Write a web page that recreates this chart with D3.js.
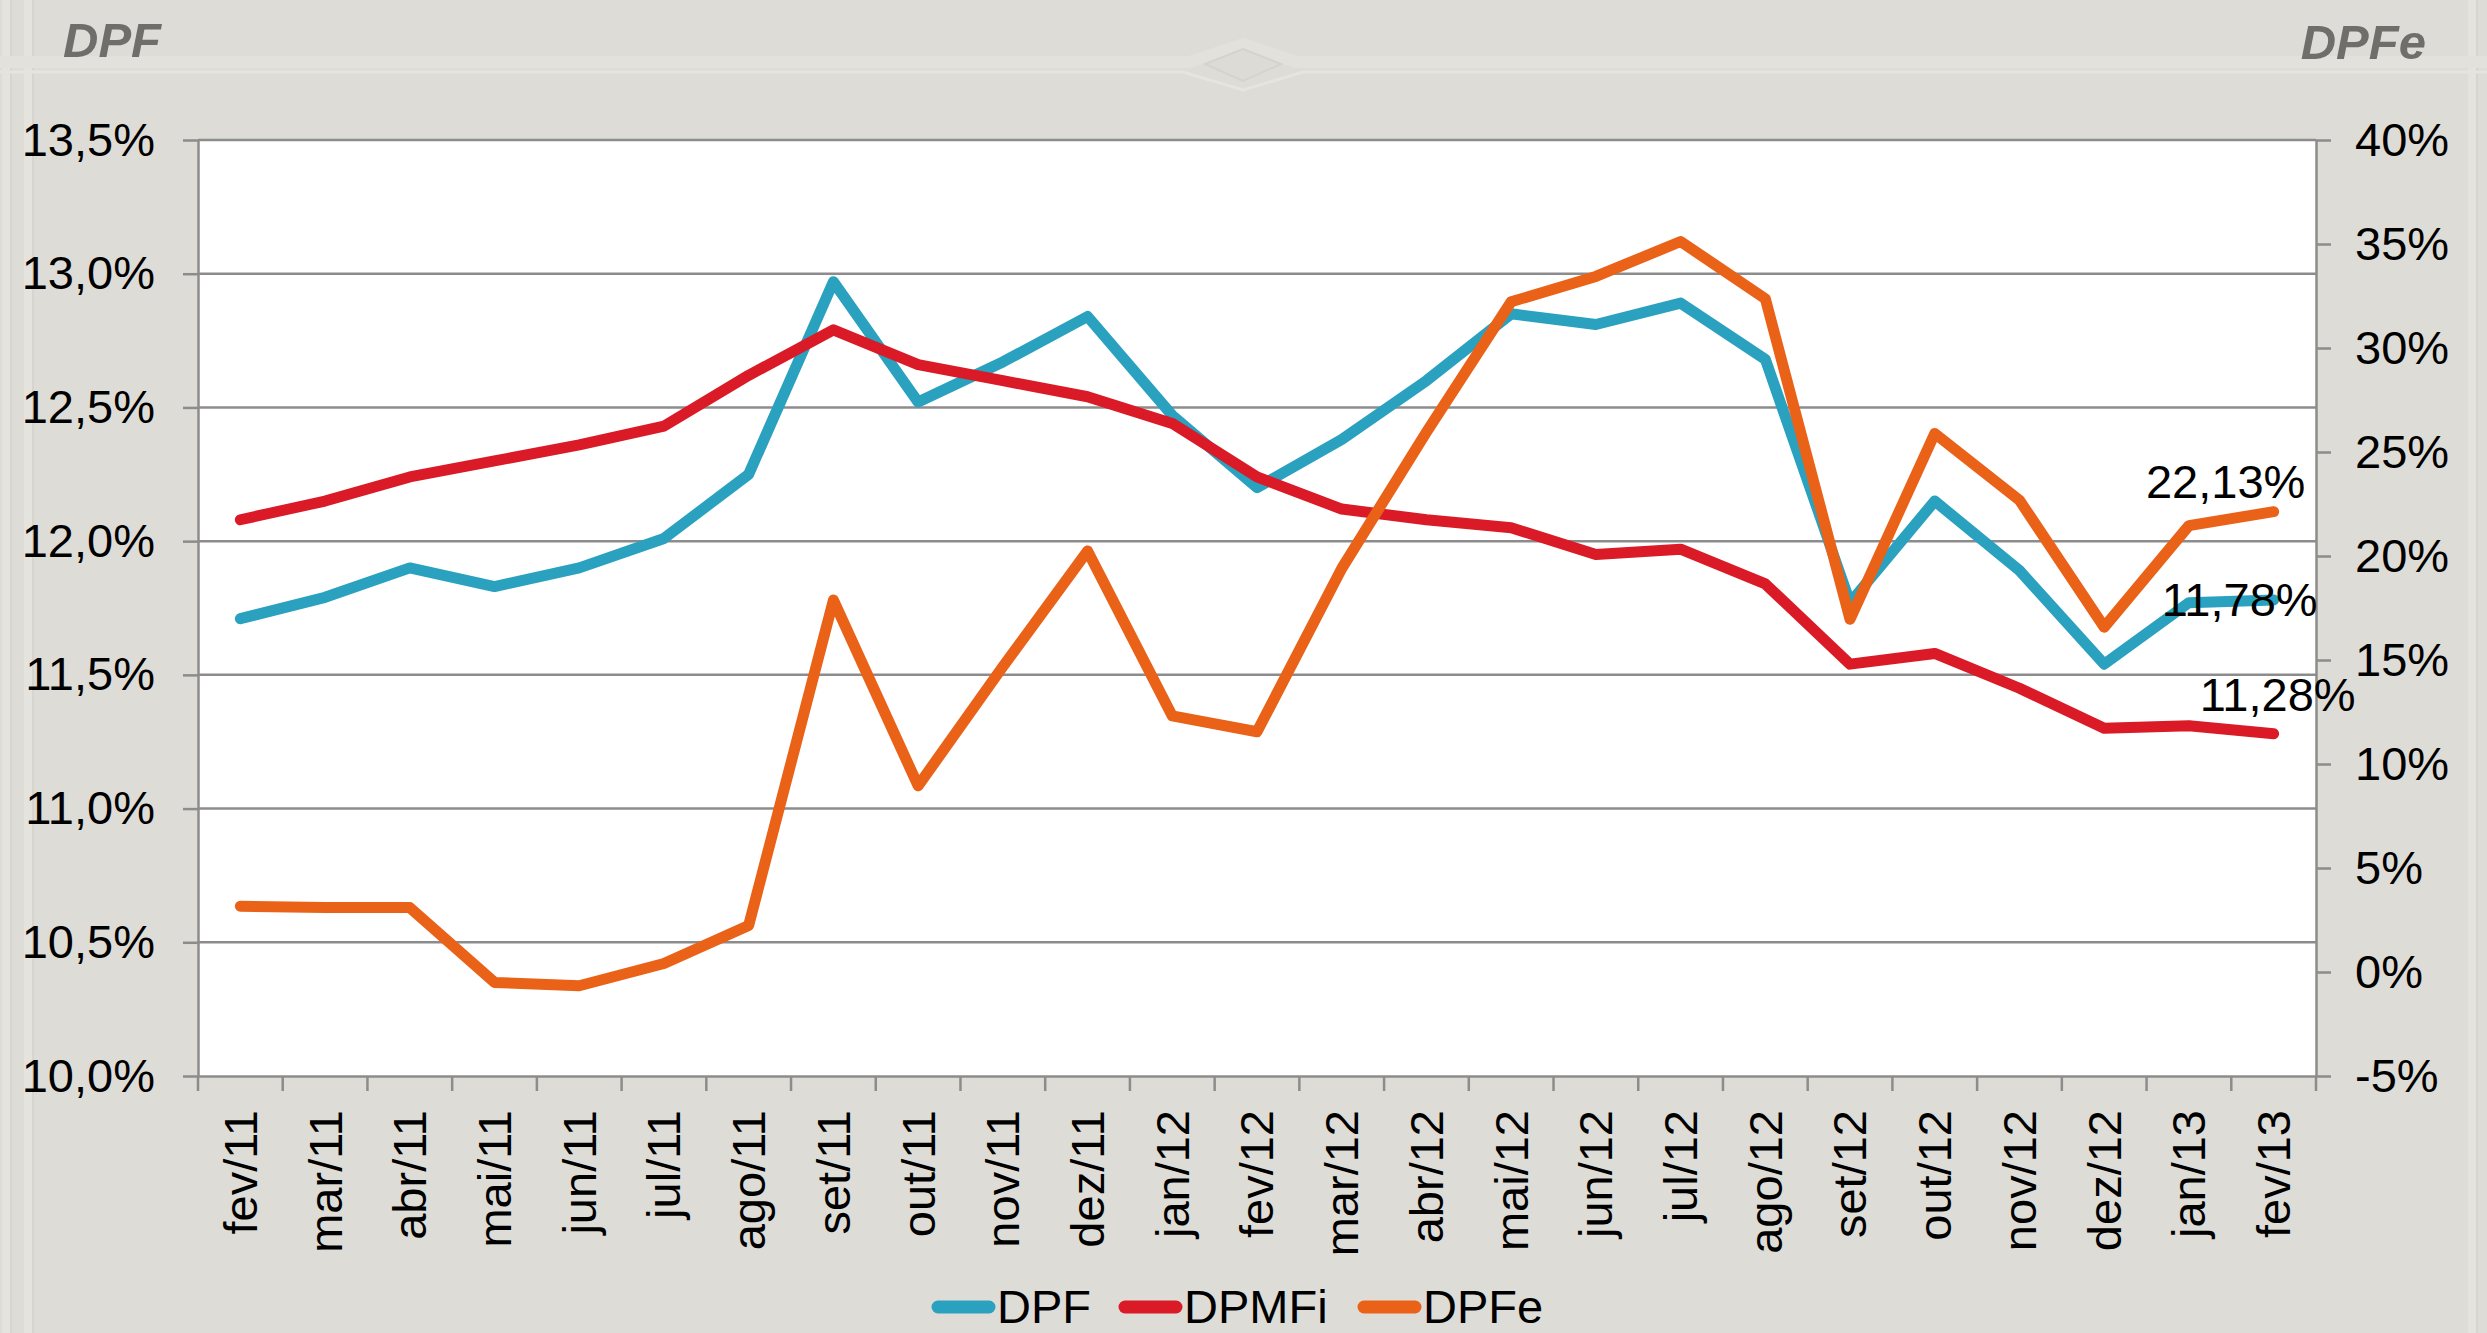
<!DOCTYPE html>
<html>
<head>
<meta charset="utf-8">
<script src="https://cdn.jsdelivr.net/npm/d3@7"></script>
<style>
  html, body { margin: 0; padding: 0; background: #dedcd6; }
  svg { display: block; font-family: "Liberation Sans", Arial, sans-serif; }
</style>
</head>
<body>
<script>
// meses (eixo X)
const meses = ["fev/11", "mar/11", "abr/11", "mai/11", "jun/11", "jul/11", "ago/11", "set/11", "out/11", "nov/11", "dez/11",
  "jan/12", "fev/12", "mar/12", "abr/12", "mai/12", "jun/12", "jul/12", "ago/12", "set/12", "out/12", "nov/12", "dez/12",
  "jan/13", "fev/13"];

// eixo esquerdo (%)
const dpf = [11.71, 11.79, 11.90, 11.83, 11.90, 12.01, 12.25, 12.97, 12.52, 12.67, 12.84,
  12.47, 12.20, 12.38, 12.60, 12.85, 12.81, 12.89, 12.68, 11.77, 12.15, 11.89, 11.54, 11.77, 11.78];
const dpmfi = [12.08, 12.15, 12.24, 12.30, 12.36, 12.43, 12.62, 12.79, 12.66, 12.60, 12.54,
  12.44, 12.24, 12.12, 12.08, 12.05, 11.95, 11.97, 11.84, 11.54, 11.58, 11.45, 11.30, 11.31, 11.28];

// eixo direito (%)
const dpfe = [3.16, 3.10, 3.10, -0.50, -0.66, 0.41, 2.24, 17.88, 8.95, 14.68, 20.24,
  12.31, 11.55, 19.40, 25.96, 32.22, 33.44, 35.12, 32.37, 16.96, 25.89, 22.68, 16.58, 21.46, 22.13];

const leftTicks = [10.0, 10.5, 11.0, 11.5, 12.0, 12.5, 13.0, 13.5];
const rightTicks = [-5, 0, 5, 10, 15, 20, 25, 30, 35, 40];

const W = 2487, H = 1333;
const plot = {left: 198, right: 2316, top: 140, bottom: 1076};

const series = [
  {name: "DPF", values: dpf, axis: "left", color: "#2aa1bf"},
  {name: "DPMFi", values: dpmfi, axis: "left", color: "#da1a26"},
  {name: "DPFe", values: dpfe, axis: "right", color: "#ea6218"}
];

const ptBR = d3.formatLocale({decimal: ",", thousands: ".", grouping: [3], currency: ["R$", ""], minus: "-"});
const fmt1 = ptBR.format(".1f");
const fmt2 = ptBR.format(".2f");

const svg = d3.select("body").append("svg")
  .attr("width", W)
  .attr("height", H);

// fundo com moldura (bem discreta)
svg.append("rect").attr("width", W).attr("height", H).attr("fill", "#dedcd6");
const frame = svg.append("g").attr("fill", "none");
[6, 28, 2472].forEach(x0 => {
  frame.append("line").attr("x1", x0).attr("x2", x0).attr("y1", 0).attr("y2", H)
    .attr("stroke", "#e5e3de").attr("stroke-width", 8);
  frame.append("line").attr("x1", x0 + 5).attr("x2", x0 + 5).attr("y1", 0).attr("y2", H)
    .attr("stroke", "#d7d5cf").attr("stroke-width", 2);
});
frame.append("path")
  .attr("d", "M0,62 L1190,62 L1243,44 L1296,62 L2487,62")
  .attr("stroke", "#e3e1dc").attr("stroke-width", 12);
frame.append("path")
  .attr("d", "M0,72 L1183,72 L1243,90 L1303,72 L2487,72")
  .attr("stroke", "#e6e4df").attr("stroke-width", 3);
frame.append("path")
  .attr("d", "M1205,64 L1243,49 L1281,64 L1243,81 Z")
  .attr("fill", "#dddbd5").attr("stroke", "#d5d3cd").attr("stroke-width", 2);

// titulos dos eixos
svg.append("text").attr("x", 63).attr("y", 57)
  .attr("font-size", 49).attr("font-weight", "bold").attr("font-style", "italic")
  .attr("fill", "#6f6e6a").text("DPF");
svg.append("text").attr("x", 2426).attr("y", 59).attr("text-anchor", "end")
  .attr("font-size", 49).attr("font-weight", "bold").attr("font-style", "italic")
  .attr("fill", "#6f6e6a").text("DPFe");

// escalas
const x = d3.scaleBand().domain(meses).range([plot.left, plot.right]).padding(0);
const yL = d3.scaleLinear().domain([10, 13.5]).range([plot.bottom, plot.top]);
const yR = d3.scaleLinear().domain([-5, 40]).range([plot.bottom, plot.top]);
const cx = d => x(d) + x.bandwidth() / 2;

svg.append("rect")
  .attr("x", plot.left).attr("y", plot.top)
  .attr("width", plot.right - plot.left).attr("height", plot.bottom - plot.top)
  .attr("fill", "#ffffff");

// linhas de grade
svg.append("g")
  .selectAll("line")
  .data(leftTicks.slice(1))
  .join("line")
  .attr("x1", plot.left).attr("x2", plot.right)
  .attr("y1", d => yL(d)).attr("y2", d => yL(d))
  .attr("stroke", "#8c8c8c").attr("stroke-width", 2.5);

// eixo esquerdo
const axL = svg.append("g")
  .attr("transform", `translate(${plot.left},0)`)
  .call(d3.axisLeft(yL).tickValues(leftTicks).tickFormat(d => fmt1(d) + "%").tickSize(15).tickPadding(28).tickSizeOuter(0));

// eixo direito
const axR = svg.append("g")
  .attr("transform", `translate(${plot.right},0)`)
  .call(d3.axisRight(yR).tickValues(rightTicks).tickFormat(d => ptBR.format("d")(d) + "%").tickSize(15).tickPadding(24).tickSizeOuter(0));

// eixo X (rotulos no centro, marcas entre categorias)
const axB = svg.append("g")
  .attr("transform", `translate(0,${plot.bottom})`)
  .call(d3.axisBottom(x).tickSize(0).tickSizeOuter(0));
axB.selectAll(".tick text")
  .attr("transform", "rotate(-90)")
  .attr("text-anchor", "end")
  .attr("x", -34)
  .attr("y", 0)
  .attr("dy", "0.35em");
axB.append("g")
  .selectAll("line")
  .data(meses.concat(["__fim"]))
  .join("line")
  .attr("x1", (d, i) => plot.left + i * x.bandwidth())
  .attr("x2", (d, i) => plot.left + i * x.bandwidth())
  .attr("y1", 0).attr("y2", 15)
  .attr("stroke", "#8c8c8c").attr("stroke-width", 2.5);

[axL, axR, axB].forEach(ax => {
  ax.select(".domain").attr("stroke", "#8c8c8c").attr("stroke-width", 2.5);
  ax.selectAll(".tick line").attr("stroke", "#8c8c8c").attr("stroke-width", 2.5);
  ax.selectAll("text").attr("font-size", 47).attr("fill", "#000")
    .attr("font-family", "'Liberation Sans', Arial, sans-serif");
});

// series
series.forEach(s => {
  const y = s.axis === "left" ? yL : yR;
  const line = d3.line()
    .x((d, i) => cx(meses[i]))
    .y(d => y(d));
  svg.append("path")
    .datum(s.values)
    .attr("fill", "none")
    .attr("stroke", s.color)
    .attr("stroke-width", 11)
    .attr("stroke-linejoin", "round")
    .attr("stroke-linecap", "round")
    .attr("d", line);
});

// rotulos do ultimo ponto
const rotulos = [
  {serie: "DPFe", dx: -48, dy: -14},
  {serie: "DPF", dx: -34, dy: 16},
  {serie: "DPMFi", dx: 4, dy: -23}
];
rotulos.forEach(r => {
  const s = series.find(d => d.name === r.serie);
  const y = s.axis === "left" ? yL : yR;
  const last = s.values.length - 1;
  svg.append("text")
    .attr("x", cx(meses[last]) + r.dx)
    .attr("y", y(s.values[last]) + r.dy)
    .attr("text-anchor", "middle")
    .attr("font-size", 47)
    .attr("fill", "#000")
    .text(fmt2(s.values[last]) + "%");
});

// legenda
const leg = svg.append("g").attr("transform", "translate(0,1307)");
const legX = [938, 1125, 1364];
series.forEach((s, i) => {
  leg.append("line")
    .attr("x1", legX[i]).attr("x2", legX[i] + 51)
    .attr("y1", 0).attr("y2", 0)
    .attr("stroke", s.color).attr("stroke-width", 13)
    .attr("stroke-linecap", "round");
  leg.append("text")
    .attr("x", legX[i] + 59).attr("y", 0)
    .attr("dy", "0.35em")
    .attr("font-size", 47)
    .attr("fill", "#000")
    .text(s.name);
});
</script>
</body>
</html>
